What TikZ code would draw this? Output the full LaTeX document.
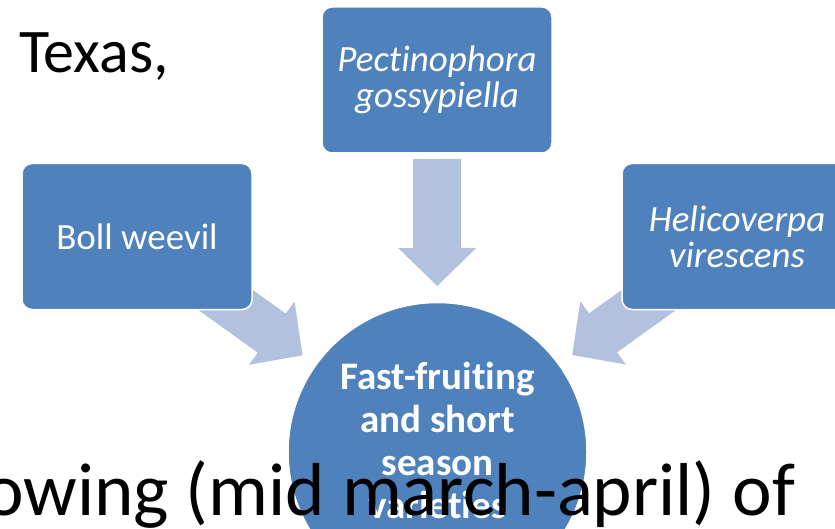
\documentclass[tikz,border=0pt]{standalone}
\usepackage{fontspec}
\setmainfont{Carlito}[Ligatures=NoCommon]
\usetikzlibrary{calc,backgrounds}
\definecolor{pestblue}{RGB}{79,129,189}
\definecolor{feedblue}{RGB}{178,194,222}
\tikzset{
	pestbox/.style={draw=white, line width=1.5pt, fill=pestblue, rounded corners=10pt, minimum width=230pt, minimum height=146pt, text=white, align=center, font=\fontsize{37}{36}\selectfont},
	feedarrow/.style={fill=feedblue}
}
\newcommand{\pestarrow}[1]{%
	\coordinate (tl) at ($(fast.center)!293pt!(#1.center)$);
	\coordinate (hb) at ($(fast.center)!204pt!(#1.center)$);
	\coordinate (tp) at ($(fast.center)!166pt!(#1.center)$);
	\fill[feedarrow] ($(tl)!24pt!90:(tp)$) -- ($(hb)!24pt!90:(tp)$) -- ($(hb)!39pt!90:(tp)$) -- (tp)
		-- ($(hb)!39pt!-90:(tp)$) -- ($(hb)!24pt!-90:(tp)$) -- ($(tl)!24pt!-90:(tp)$) -- cycle;
}

\begin{document}
\begin{tikzpicture}[x=1pt,y=-1pt]
			\useasboundingbox (0,0) rectangle (835,529);
			\node[anchor=base west, inner sep=0pt, font=\fontsize{62}{70}\selectfont] (texas) at (19,73) {Texas,};
			\node[pestbox] (weevil) at (137,236.5) {Boll weevil};
			\node[pestbox] (pecti) at (437,80) {\textit{Pectinophora}\\\textit{gossypiella}};
			\node[pestbox] (helico) at (737,236.5) {\textit{Helicoverpa}\\\textit{virescens}};
			\node[circle, draw=white, line width=1.5pt, fill=pestblue, minimum size=299pt] (fast) at (437.5,452) {};
			\node[text=white, align=center, font=\bfseries\fontsize{39}{43}\selectfont] (fasttext) at ([yshift=12pt]fast.center) {Fast-fruiting\\and short\\season\\varieties};
			\begin{pgfonlayer}{background}
				\pestarrow{weevil}
				\pestarrow{pecti}
				\pestarrow{helico}
			\end{pgfonlayer}
			\node[anchor=base west, inner sep=0pt, font=\fontsize{75}{80}\selectfont] (sowing) at (-16,515) {owing (mid march-april) of};
		\end{tikzpicture}
\end{document}
